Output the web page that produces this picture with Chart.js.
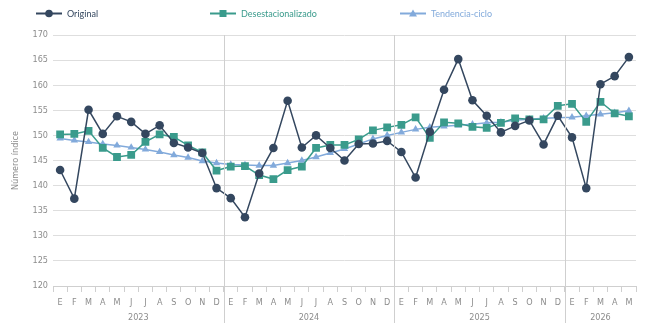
<!DOCTYPE html>
<html lang="es">
<head>
  <meta charset="UTF-8">
  <title>Número índice</title>
  <style>
    html, body { margin: 0; padding: 0; background: #fff; overflow: hidden; }
    #wrap { position: relative; width: 652px; height: 332px; }
  </style>
</head>
<body>
  <div id="wrap"><canvas id="chart" width="652" height="332"></canvas></div>

  <script src="https://cdn.jsdelivr.net/npm/chart.js"></script>
  <script>
    // data
    const years = ['2023', '2024', '2025', '2026'];
    const monthsPerYear = [12, 12, 12, 5];
    const monthLetters = ['E', 'F', 'M', 'A', 'M', 'J', 'J', 'A', 'S', 'O', 'N', 'D'];
    const yTicks = [120, 125, 130, 135, 140, 145, 150, 155, 160, 165, 170];

    const original = [143.1, 137.4, 155.1, 150.3, 153.8, 152.7, 150.3, 152.0, 148.5, 147.6, 146.5, 139.5,
                      137.5, 133.7, 142.4, 147.5, 156.9, 147.6, 150.0, 147.5, 145.0, 148.3, 148.4, 148.9,
                      146.7, 141.6, 150.7, 159.1, 165.2, 157.0, 153.9, 150.6, 151.9, 153.0, 148.2, 153.9,
                      149.6, 139.5, 160.2, 161.8, 165.6];
    const desestacionalizado = [150.2, 150.3, 150.9, 147.5, 145.7, 146.1, 148.7, 150.2, 149.7, 148.0, 146.6, 143.0,
                                143.8, 143.9, 142.1, 141.3, 143.1, 143.8, 147.5, 148.1, 148.1, 149.2, 151.0, 151.6,
                                152.1, 153.6, 149.5, 152.6, 152.4, 151.7, 151.5, 152.5, 153.4, 153.2, 153.2, 155.9,
                                156.3, 152.7, 156.7, 154.4, 153.8];
    const tendencia = [149.4, 149.0, 148.7, 148.3, 148.0, 147.6, 147.2, 146.7, 146.1, 145.6, 144.9, 144.5,
                       144.2, 144.1, 144.0, 144.0, 144.5, 145.0, 145.7, 146.5, 147.3, 148.3, 149.3, 150.0,
                       150.6, 151.2, 151.6, 151.8, 152.0, 152.2, 152.5, 152.6, 153.0, 153.2, 153.4, 153.5,
                       153.6, 153.9, 154.2, 154.5, 154.9];

    const labels = [];
    monthsPerYear.forEach(n => { for (let i = 0; i < n; i++) labels.push(monthLetters[i]); });

    const C_ORIG = '#34475f';
    const C_DES = '#3a9b8c';
    const C_TEN = '#82aadb';
    const GREY = '#8c8c8c';
    const TICK_FONT = "'Liberation Sans Narrow', 'DejaVu Sans Condensed', sans-serif";
    const LEG_FONT = "'Lato', 'Open Sans', sans-serif";

    // year dividers + year labels under the month letters
    const yearPlugin = {
      id: 'years',
      afterDatasetsDraw(chart) {
        const ctx = chart.ctx;
        const x = chart.scales.x;
        const area = chart.chartArea;
        const step = x.getPixelForValue(1) - x.getPixelForValue(0);
        ctx.save();
        ctx.strokeStyle = '#cfcfcf';
        ctx.lineWidth = 1;
        ctx.fillStyle = GREY;
        ctx.font = '9px ' + TICK_FONT;
        ctx.textAlign = 'center';
        ctx.textBaseline = 'middle';
        let start = 0;
        years.forEach((yr, k) => {
          const end = start + monthsPerYear[k] - 1;
          const left = x.getPixelForValue(start) - step / 2;
          const right = x.getPixelForValue(end) + step / 2;
          if (k < years.length - 1) {
            const px = Math.round(right) + 0.5;
            ctx.beginPath();
            ctx.moveTo(px, area.top);
            ctx.lineTo(px, area.bottom + 37);
            ctx.stroke();
          }
          ctx.fillText(yr, (left + right) / 2, area.bottom + 32);
          start = end + 1;
        });
        ctx.restore();
      }
    };

    // legend drawn by hand so the items keep their spread-out positions
    const legendPlugin = {
      id: 'topLegend',
      afterDraw(chart) {
        const ctx = chart.ctx;
        const items = [
          { text: 'Original', color: C_ORIG, style: 'circle', x: 36 },
          { text: 'Desestacionalizado', color: C_DES, style: 'rect', x: 210 },
          { text: 'Tendencia-ciclo', color: C_TEN, style: 'triangle', x: 400 }
        ];
        const y = 13;
        ctx.save();
        ctx.font = '9px ' + LEG_FONT;
        ctx.textBaseline = 'middle';
        items.forEach(it => {
          ctx.strokeStyle = it.color;
          ctx.fillStyle = it.color;
          ctx.lineWidth = 2;
          ctx.beginPath();
          ctx.moveTo(it.x, y + 0.5);
          ctx.lineTo(it.x + 26, y + 0.5);
          ctx.stroke();
          const cx = it.x + 13;
          ctx.beginPath();
          if (it.style === 'circle') {
            ctx.arc(cx, y + 0.5, 3.8, 0, Math.PI * 2);
          } else if (it.style === 'rect') {
            ctx.rect(cx - 3.5, y - 3, 7, 7);
          } else {
            ctx.moveTo(cx, y - 3.5);
            ctx.lineTo(cx + 4, y + 3.5);
            ctx.lineTo(cx - 4, y + 3.5);
            ctx.closePath();
          }
          ctx.fill();
          ctx.fillText(it.text, it.x + 31, y + 1);
        });
        ctx.restore();
      }
    };

    const ctx = document.getElementById('chart').getContext('2d');
    new Chart(ctx, {
      type: 'line',
      data: {
        labels: labels,
        datasets: [
          {
            label: 'Original',
            data: original,
            borderColor: C_ORIG,
            backgroundColor: C_ORIG,
            borderWidth: 1.5,
            pointStyle: 'circle',
            pointRadius: 4.3,
            pointBorderWidth: 0,
            tension: 0
          },
          {
            label: 'Desestacionalizado',
            data: desestacionalizado,
            borderColor: C_DES,
            backgroundColor: C_DES,
            borderWidth: 1.5,
            pointStyle: 'rect',
            pointRadius: 5.5,
            pointBorderWidth: 0,
            tension: 0
          },
          {
            label: 'Tendencia-ciclo',
            data: tendencia,
            borderColor: C_TEN,
            backgroundColor: C_TEN,
            borderWidth: 1.5,
            pointStyle: 'triangle',
            pointRadius: 4.3,
            pointBorderWidth: 0,
            tension: 0
          }
        ]
      },
      options: {
        responsive: false,
        animation: false,
        layout: { padding: { top: 35, right: 16, left: 10, bottom: 0 } },
        plugins: {
          legend: { display: false },
          tooltip: { enabled: false }
        },
        scales: {
          x: {
            offset: true,
            border: { display: true, color: '#cfcfcf' },
            grid: {
              offset: true,
              drawOnChartArea: false,
              drawTicks: true,
              tickLength: 6,
              color: '#cfcfcf'
            },
            ticks: {
              color: GREY,
              font: { size: 9, family: TICK_FONT },
              padding: 5,
              maxRotation: 0,
              autoSkip: false
            },
            afterFit(scale) { scale.height = 46; }
          },
          y: {
            min: 120,
            max: 170,
            afterBuildTicks(scale) { scale.ticks = yTicks.map(v => ({ value: v })); },
            border: { display: false },
            grid: { color: '#dedede', lineWidth: 1, drawTicks: false },
            ticks: {
              color: GREY,
              font: { size: 9, family: TICK_FONT },
              padding: 5
            },
            title: {
              display: true,
              text: 'Número índice',
              color: GREY,
              font: { size: 9, family: TICK_FONT },
              padding: { top: 0, bottom: 4 }
            },
            afterFit(scale) { scale.width = 43; }
          }
        }
      },
      plugins: [yearPlugin, legendPlugin]
    });
  </script>
</body>
</html>
